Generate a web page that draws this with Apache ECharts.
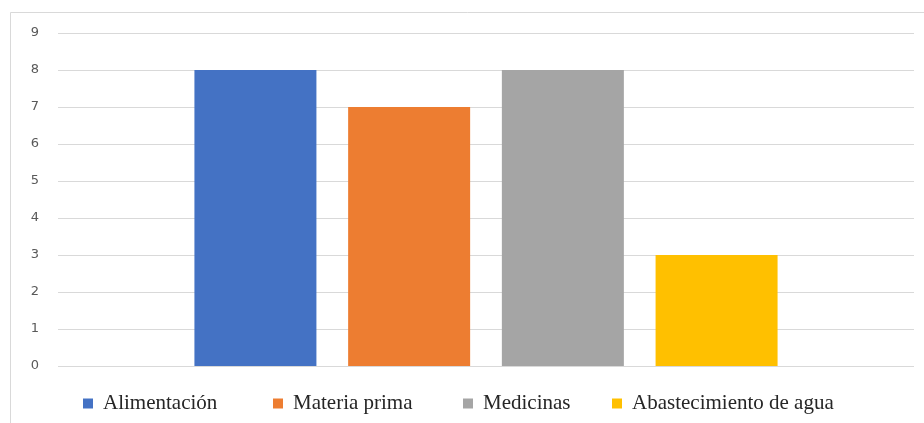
<!DOCTYPE html>
<html>
<head>
<meta charset="utf-8">
<script src="https://cdn.jsdelivr.net/npm/echarts@6/dist/echarts.min.js"></script>
<style>
  html, body { margin: 0; padding: 0; background: #ffffff; }
  #chart { width: 924px; height: 423px; }
</style>
</head>
<body>
<div id="chart"></div>
<script>
// Single category, one bar per series
const categories = [''];
const seriesNames = ['Alimentación', 'Materia prima', 'Medicinas', 'Abastecimiento de agua'];
const seriesValues = [8, 7, 8, 3];
const seriesColors = ['#4472C4', '#ED7D31', '#A5A5A5', '#FFC000'];
const yTicks = [0, 1, 2, 3, 4, 5, 6, 7, 8, 9];

// Legend entry start positions along the bottom row
const legendLefts = [83, 273, 463, 612];

const chart = echarts.init(document.getElementById('chart'), null, { renderer: 'canvas' });

const legends = seriesNames.map((name, i) => ({
  data: [name],
  left: legendLefts[i],
  top: 393,
  orient: 'horizontal',
  itemWidth: 10,
  itemHeight: 10,
  itemGap: 0,
  padding: 0,
  icon: 'rect',
  selectedMode: false,
  textStyle: {
    fontFamily: 'Liberation Serif',
    fontSize: 21,
    color: '#262626',
    padding: [0, 0, 0, 5]
  }
}));

chart.setOption({
  animation: false,
  backgroundColor: '#ffffff',
  graphic: [{
    type: 'rect',
    shape: { x: 10.5, y: 12.5, width: 1000, height: 500 },
    style: { fill: 'none', stroke: '#d9d9d9', lineWidth: 1 },
    silent: true,
    z: -1
  }],
  legend: legends,
  grid: { left: 58, right: 10, top: 33, bottom: 57, containLabel: false },
  xAxis: {
    type: 'category',
    data: categories,
    axisLine: { show: false },
    axisTick: { show: false },
    axisLabel: { show: false }
  },
  yAxis: {
    type: 'value',
    min: yTicks[0],
    max: yTicks[yTicks.length - 1],
    interval: 1,
    axisLine: { show: false },
    axisTick: { show: false },
    splitLine: { lineStyle: { color: '#d9d9d9', width: 1 } },
    axisLabel: {
      margin: 19,
      color: '#595959',
      fontFamily: 'DejaVu Sans',
      fontSize: 13
    }
  },
  series: seriesNames.map((name, i) => ({
    name: name,
    type: 'bar',
    data: [seriesValues[i]],
    barWidth: 122,
    barGap: '26%',
    itemStyle: { color: seriesColors[i] }
  }))
});
</script>
</body>
</html>
